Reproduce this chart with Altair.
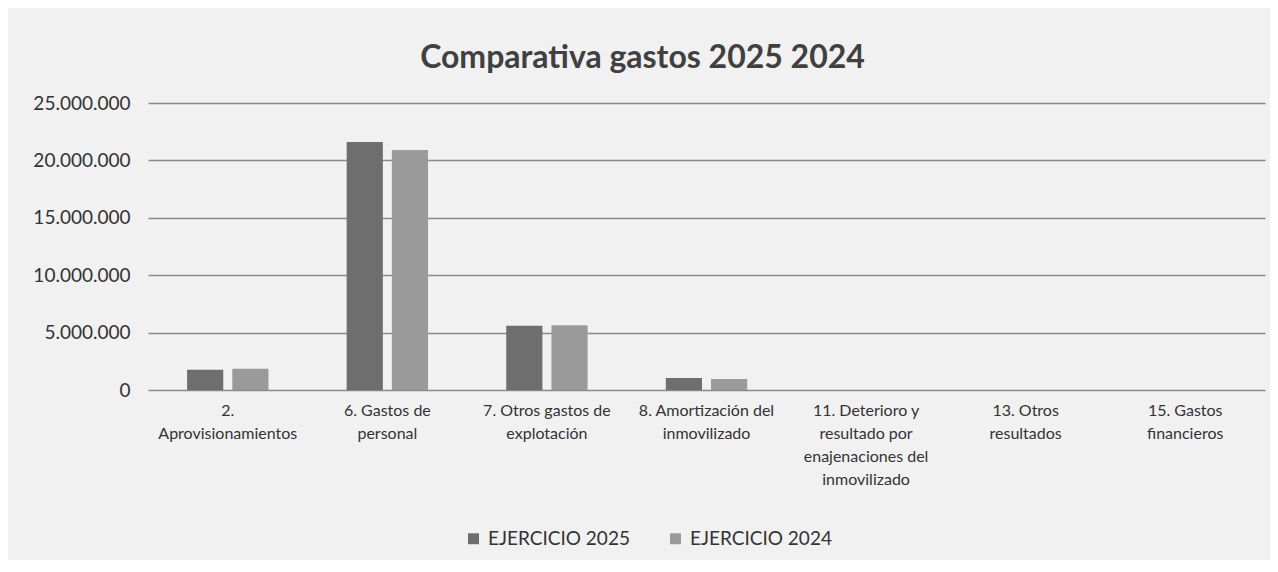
import json
import altair as alt
import pandas as pd

categories = [
    "2. Aprovisionamientos",
    "6. Gastos de personal",
    "7. Otros gastos de explotación",
    "8. Amortización del inmovilizado",
    "11. Deterioro y resultado por enajenaciones del inmovilizado",
    "13. Otros resultados",
    "15. Gastos financieros",
]
label_lines = [
    ["2.", "Aprovisionamientos"],
    ["6. Gastos de", "personal"],
    ["7. Otros gastos de", "explotación"],
    ["8. Amortización del", "inmovilizado"],
    ["11. Deterioro y", "resultado por", "enajenaciones del", "inmovilizado"],
    ["13. Otros", "resultados"],
    ["15. Gastos", "financieros"],
]
series = ["EJERCICIO 2025", "EJERCICIO 2024"]
values_2025 = [1760000, 21600000, 5600000, 1050000, 0, 0, 0]
values_2024 = [1850000, 20900000, 5650000, 950000, 0, 0, 0]
colors = ["#6e6e6e", "#9a9a9a"]

rows = []
for c, a, b in zip(categories, values_2025, values_2024):
    rows.append({"cat": c, "serie": series[0], "valor": a})
    rows.append({"cat": c, "serie": series[1], "valor": b})
df = pd.DataFrame(rows)

label_map = json.dumps(dict(zip(categories, label_lines)), ensure_ascii=False)

FONT = "Lato"

chart = (
    alt.Chart(df)
    .mark_bar()
    .encode(
        x=alt.X(
            "cat:N",
            sort=categories,
            scale=alt.Scale(paddingInner=0.49, paddingOuter=0.245),
            axis=alt.Axis(
                title=None,
                labelAngle=0,
                labelExpr=f"{label_map}[datum.value]",
                labelFontSize=16,
                labelLineHeight=23,
                labelColor="#333333",
                labelFont=FONT,
                labelPadding=12,
                ticks=False,
                domain=False,
                labelBaseline="top",
            ),
        ),
        xOffset=alt.XOffset(
            "serie:N", sort=series, scale=alt.Scale(paddingInner=0.2, paddingOuter=0)
        ),
        y=alt.Y(
            "valor:Q",
            scale=alt.Scale(domain=[0, 25000000], nice=False),
            axis=alt.Axis(
                title=None,
                values=[0, 5000000, 10000000, 15000000, 20000000, 25000000],
                format=",d",
                labelFontSize=19,
                labelColor="#333333",
                labelFont=FONT,
                labelPadding=18,
                ticks=False,
                domain=False,
                grid=True,
                gridColor="#8a8a8a",
                gridWidth=1.5,
            ),
        ),
        color=alt.Color(
            "serie:N",
            sort=series,
            scale=alt.Scale(domain=series, range=colors),
            legend=alt.Legend(
                title=None,
                orient="none",
                direction="horizontal",
                legendX=316,
                legendY=426,
                symbolType="square",
                symbolSize=120,
                symbolStrokeWidth=0,
                labelFontSize=19,
                labelFont=FONT,
                labelColor="#333333",
                labelOffset=5,
                columnPadding=36,
            ),
        ),
    )
    .properties(
        width=1117,
        height=287,
        autosize=alt.AutoSizeParams(type="none"),
        padding={"left": 140, "top": 95, "right": 5, "bottom": 170},
        background="#f1f1f1",
        title=alt.TitleParams(
            "Comparativa gastos 2025 2024",
            font=FONT,
            fontSize=32,
            fontWeight="bold",
            color="#404040",
            anchor="middle",
            dx=-64,
            offset=19,
        ),
    )
    .configure_view(stroke=None)
)

chart.save(
    "out.html",
    embed_options={
        "renderer": "svg",
        "actions": False,
        "formatLocale": {
            "decimal": ",",
            "thousands": ".",
            "grouping": [3],
            "currency": ["", " €"],
        },
    },
)
